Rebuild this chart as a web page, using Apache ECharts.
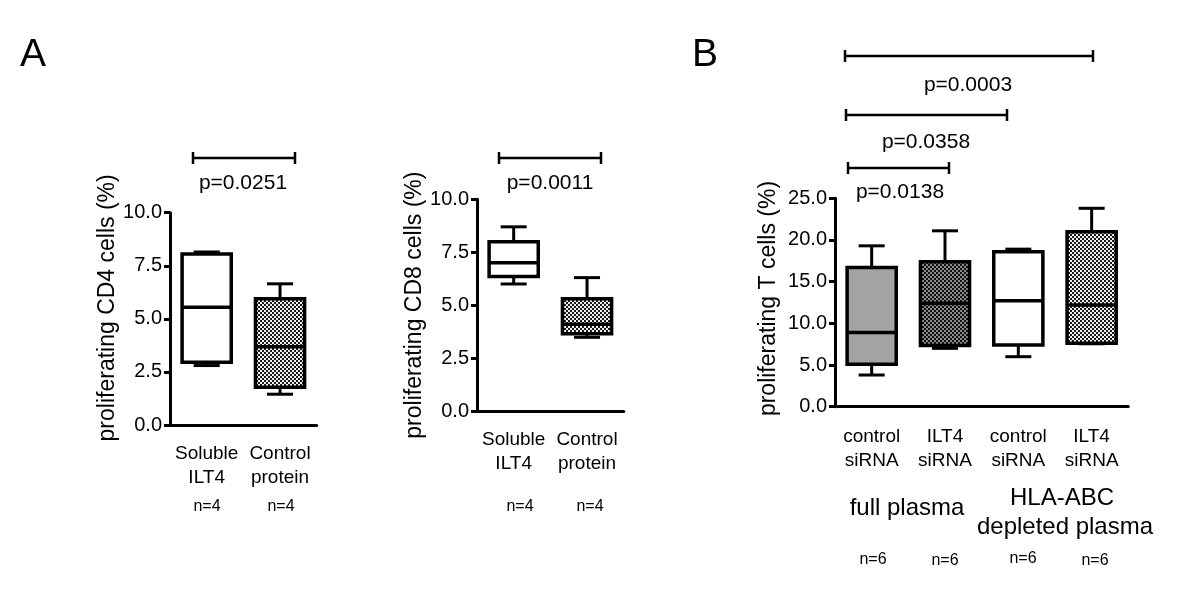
<!DOCTYPE html>
<html>
<head>
<meta charset="utf-8">
<script src="https://cdn.jsdelivr.net/npm/echarts@6/dist/echarts.min.js"></script>
<style>
  html, body { margin: 0; padding: 0; background: #fff; }
  #main { width: 1200px; height: 615px; }
</style>
</head>
<body>
<div id="main"></div>
<script>
// categories
const catA = ['Soluble\nILT4', 'Control\nprotein']
const catB = ['control\nsiRNA', 'ILT4\nsiRNA', 'control\nsiRNA', 'ILT4\nsiRNA']

// box stats: [min, q1, median, q3, max]
const cd4Stats = [[2.8, 2.95, 5.55, 8.05, 8.15], [1.45, 1.78, 3.68, 5.95, 6.65]]
const cd8Stats = [[6.0, 6.35, 7.0, 8.0, 8.7], [3.48, 3.65, 4.1, 5.3, 6.3]]
const tStats = [[3.8, 5.1, 8.9, 16.7, 19.3], [7.0, 7.35, 12.4, 17.4, 21.1], [6.0, 7.4, 12.7, 18.6, 18.9], [7.55, 7.6, 12.2, 21.0, 23.8]]

// p values and group sizes
const pA = ['p=0.0251', 'p=0.0011']
const pB = ['p=0.0003', 'p=0.0358', 'p=0.0138']
const nA = ['n=4', 'n=4']
const nB = ['n=6', 'n=6', 'n=6', 'n=6']

function checker (dark, light, cell) {
  let c = document.createElement('canvas')
  c.width = cell * 2
  c.height = cell * 2
  let ctx = c.getContext('2d')
  ctx.fillStyle = light
  ctx.fillRect(0, 0, cell * 2, cell * 2)
  ctx.fillStyle = dark
  ctx.fillRect(0, 0, cell, cell)
  ctx.fillRect(cell, cell, cell, cell)
  return { image: c, repeat: 'repeat' }
}

const lightCheck = checker('#1a1a1a', '#f0f0f0', 2)
const darkCheck = checker('#111', '#8a8a8a', 2)
const fills = [
  ['#fff', lightCheck],
  ['#fff', lightCheck],
  ['#a3a3a3', darkCheck, '#fff', lightCheck]
]

function toData (stats) {
  return stats.map((s, i) => [i].concat(s))
}

function renderBox (params, api) {
  let x = api.value(0)
  let pMin = api.coord([x, api.value(1)])
  let pQ1 = api.coord([x, api.value(2)])
  let pMed = api.coord([x, api.value(3)])
  let pQ3 = api.coord([x, api.value(4)])
  let pMax = api.coord([x, api.value(5)])
  let bw = api.size([1, 0])[0] * 0.67
  let cw = bw * 0.53
  let cx = pMed[0]
  let line = { stroke: '#000', lineWidth: 3 }
  let fill = fills[params.seriesIndex][params.dataIndex]
  return {
    type: 'group',
    children: [
      { type: 'line', shape: { x1: cx, y1: pMax[1], x2: cx, y2: pQ3[1] }, style: line },
      { type: 'line', shape: { x1: cx, y1: pMin[1], x2: cx, y2: pQ1[1] }, style: line },
      { type: 'line', shape: { x1: cx - cw / 2, y1: pMax[1], x2: cx + cw / 2, y2: pMax[1] }, style: line },
      { type: 'line', shape: { x1: cx - cw / 2, y1: pMin[1], x2: cx + cw / 2, y2: pMin[1] }, style: line },
      {
        type: 'rect',
        shape: { x: cx - bw / 2, y: pQ3[1], width: bw, height: pQ1[1] - pQ3[1] },
        style: { fill: fill, stroke: '#000', lineWidth: 3.5 }
      },
      { type: 'line', shape: { x1: cx - bw / 2, y1: pMed[1], x2: cx + bw / 2, y2: pMed[1] }, style: { stroke: '#000', lineWidth: 3.5 } }
    ]
  }
}

const font = 'Liberation Sans, Arial, sans-serif'

function xAxisOf (grid, cats, margin) {
  return {
    type: 'category',
    gridIndex: grid,
    data: cats,
    axisLine: { lineStyle: { color: '#000', width: 3 } },
    axisTick: { alignWithLabel: true, length: 6, lineStyle: { color: '#000', width: 3 } },
    axisLabel: { color: '#000', fontSize: 19, fontFamily: font, lineHeight: 24, margin: margin, interval: 0 }
  }
}

function yAxisOf (grid, max, step, name, gap, shift) {
  return {
    type: 'value',
    gridIndex: grid,
    min: 0,
    max: max,
    interval: step,
    name: name,
    nameLocation: 'middle',
    nameRotate: 90,
    nameGap: gap,
    nameTextStyle: { color: '#000', fontSize: 23, fontFamily: font, padding: [0, 0, 0, shift] },
    splitLine: { show: false },
    axisLine: { show: true, lineStyle: { color: '#000', width: 3 } },
    axisTick: { show: true, length: 6, lineStyle: { color: '#000', width: 3 } },
    axisLabel: { color: '#000', fontSize: 20, fontFamily: font, margin: 8, formatter: v => v.toFixed(1) }
  }
}

function text (str, x, y, size) {
  return {
    type: 'text',
    x: x,
    y: y,
    style: { text: str, font: size + 'px ' + font, fill: '#000', align: 'center', verticalAlign: 'middle' }
  }
}

function bracket (x1, x2, y) {
  let st = { stroke: '#000', lineWidth: 2.5 }
  return {
    type: 'group',
    children: [
      { type: 'line', shape: { x1: x1, y1: y, x2: x2, y2: y }, style: st },
      { type: 'line', shape: { x1: x1, y1: y - 6, x2: x1, y2: y + 6 }, style: st },
      { type: 'line', shape: { x1: x2, y1: y - 6, x2: x2, y2: y + 6 }, style: st }
    ]
  }
}

let chart = echarts.init(document.getElementById('main'))
let option = {
  backgroundColor: '#fff',
  animation: false,
  grid: [
    { left: 170, top: 212.7, width: 146.7, height: 212.3 },
    { left: 477, top: 199.3, width: 146.7, height: 211.7 },
    { left: 835, top: 198.3, width: 293.3, height: 208.4 }
  ],
  xAxis: [xAxisOf(0, catA, 17), xAxisOf(1, catA, 17), xAxisOf(2, catB, 18)],
  yAxis: [
    yAxisOf(0, 10, 2.5, 'proliferating CD4 cells (%)', 50, 22),
    yAxisOf(1, 10, 2.5, 'proliferating CD8 cells (%)', 51, 0),
    yAxisOf(2, 25, 5, 'proliferating T cells (%)', 55, 8)
  ],
  series: [
    { type: 'custom', xAxisIndex: 0, yAxisIndex: 0, renderItem: renderBox, encode: { x: 0, y: [1, 2, 3, 4, 5] }, data: toData(cd4Stats) },
    { type: 'custom', xAxisIndex: 1, yAxisIndex: 1, renderItem: renderBox, encode: { x: 0, y: [1, 2, 3, 4, 5] }, data: toData(cd8Stats) },
    { type: 'custom', xAxisIndex: 2, yAxisIndex: 2, renderItem: renderBox, encode: { x: 0, y: [1, 2, 3, 4, 5] }, data: toData(tStats) }
  ],
  graphic: [
    text('A', 33, 55, 39),
    text('B', 705, 55, 39),
    bracket(193, 295, 158),
    text(pA[0], 243, 183, 21),
    bracket(499, 601, 158),
    text(pA[1], 550, 183, 21),
    bracket(845, 1093, 56),
    text(pB[0], 968, 85, 21),
    bracket(846, 1007, 115),
    text(pB[1], 926, 142, 21),
    bracket(848, 949, 168),
    text(pB[2], 900, 192, 21),
    text(nA[0], 207, 507, 16),
    text(nA[1], 281, 507, 16),
    text(nA[0], 520, 507, 16),
    text(nA[1], 590, 507, 16),
    text('full plasma', 907, 508, 24),
    text('HLA-ABC', 1062, 498, 24),
    text('depleted plasma', 1065, 527, 24),
    text(nB[0], 873, 560, 16),
    text(nB[1], 945, 561, 16),
    text(nB[2], 1023, 559, 16),
    text(nB[3], 1095, 561, 16)
  ]
}
chart.setOption(option)
</script>
</body>
</html>
